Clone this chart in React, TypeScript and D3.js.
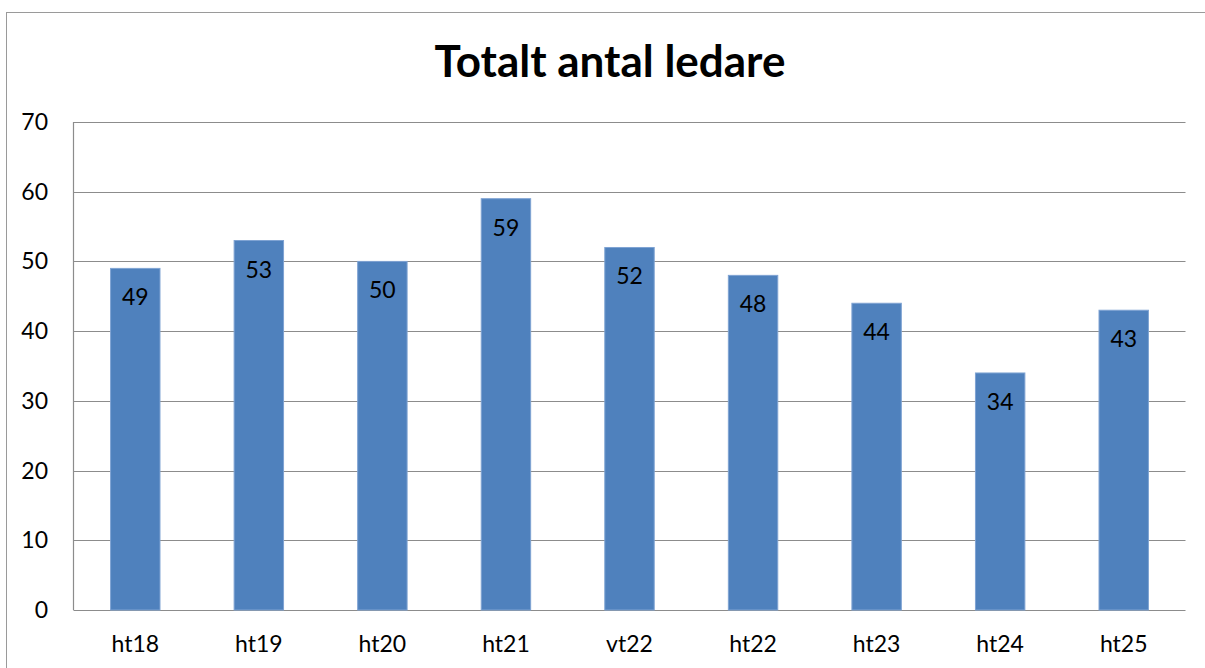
import React from "react";
import * as d3 from "d3";

const categories = ["ht18", "ht19", "ht20", "ht21", "vt22", "ht22", "ht23", "ht24", "ht25"];
const values = [49, 53, 50, 59, 52, 48, 44, 34, 43];
const yTicks = [0, 10, 20, 30, 40, 50, 60, 70];
const title = "Totalt antal ledare";

const W = 1205;
const H = 668;
const left = 73.5;
const right = 1185.5;
const top = 122;
const bottom = 610;
const font = "Lato, 'Open Sans', sans-serif";

export default function App() {
  const x = d3.scaleBand<string>().domain(categories).range([left, right]).paddingInner(0.6).paddingOuter(0.3);
  const y = d3.scaleLinear().domain([0, 70]).range([bottom, top]);
  return (
    <svg width={W} height={H} style={{ position: "absolute", left: 0, top: 0, background: "#fff" }} fontFamily={font}>
      <rect x={6.5} y={12.5} width={W + 10} height={H + 10} fill="#fff" stroke="#9a9a9a" strokeWidth={1} />
      <text x={610} y={77} textAnchor="middle" fontSize={44} fontWeight="bold" fill="#000">{title}</text>
      {yTicks.map((t) => (
        <g key={t}>
          <line x1={left} x2={right} y1={Math.round(y(t)) + 0.5} y2={Math.round(y(t)) + 0.5} stroke="#8c8c8c" strokeWidth={1.2} />
          <text x={48} y={y(t) + 8} textAnchor="end" fontSize={23} fill="#000">{t}</text>
        </g>
      ))}
      <line x1={left} x2={left} y1={top} y2={bottom} stroke="#8c8c8c" strokeWidth={1.2} />
      {categories.map((c, i) => {
        const bx = x(c)!;
        const bw = x.bandwidth();
        const by = y(values[i]);
        return (
          <g key={c}>
            <rect x={bx} y={by} width={bw} height={bottom - by} fill="#4F81BD" stroke="#7fa3d3" strokeWidth={1} />
            <text x={bx + bw / 2} y={by + 37} textAnchor="middle" fontSize={23} fill="#000">{values[i]}</text>
            <text x={bx + bw / 2} y={652} textAnchor="middle" fontSize={23} fill="#000">{c}</text>
          </g>
        );
      })}
    </svg>
  );
}
